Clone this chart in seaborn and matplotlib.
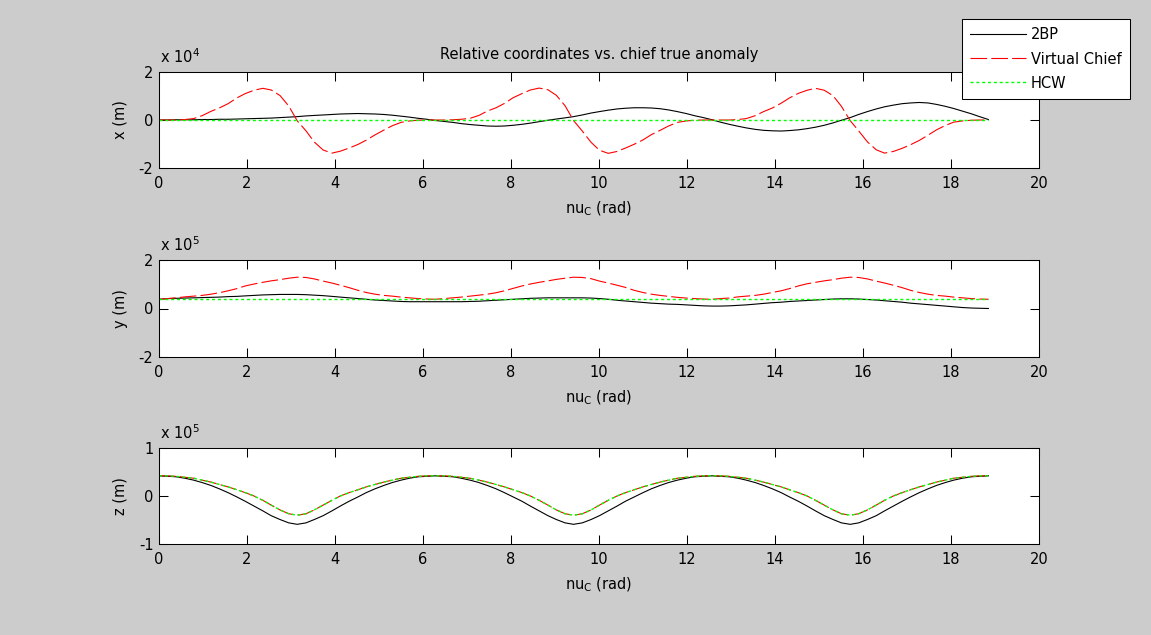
import matplotlib
matplotlib.use("Agg")
import matplotlib.pyplot as plt
import seaborn as sns

# ---------------- data ----------------
# chief true anomaly samples (rad)
nu = [0.00, 0.20, 0.39, 0.59, 0.79, 0.98, 1.18, 1.37, 1.57, 1.77, 1.96, 2.16, 2.36, 2.55, 2.75, 2.95,
      3.14, 3.34, 3.53, 3.73, 3.93, 4.12, 4.32, 4.52, 4.71, 4.91, 5.11, 5.30, 5.50, 5.69, 5.89, 6.09,
      6.28, 6.48, 6.68, 6.87, 7.07, 7.27, 7.46, 7.66, 7.85, 8.05, 8.25, 8.44, 8.64, 8.84, 9.03, 9.23,
      9.42, 9.62, 9.82, 10.01, 10.21, 10.41, 10.60, 10.80, 11.00, 11.19, 11.39, 11.58, 11.78, 11.98, 12.17, 12.37,
      12.57, 12.76, 12.96, 13.16, 13.35, 13.55, 13.74, 13.94, 14.14, 14.33, 14.53, 14.73, 14.92, 15.12, 15.32, 15.51,
      15.71, 15.90, 16.10, 16.30, 16.49, 16.69, 16.89, 17.08, 17.28, 17.48, 17.67, 17.87, 18.06, 18.26, 18.46, 18.65,
      18.85]

# x (units of 1e4 m)
x_2bp = [0.00, 0.00, 0.01, 0.01, 0.01, 0.02, 0.02, 0.03, 0.03, 0.04, 0.05, 0.06, 0.07, 0.08, 0.10, 0.12,
         0.14, 0.17, 0.19, 0.21, 0.23, 0.25, 0.26, 0.27, 0.26, 0.25, 0.23, 0.20, 0.16, 0.12, 0.07, 0.03,
         -0.02, -0.06, -0.10, -0.15, -0.19, -0.22, -0.25, -0.26, -0.25, -0.22, -0.18, -0.13, -0.07, -0.01, 0.04, 0.09,
         0.14, 0.21, 0.29, 0.35, 0.41, 0.46, 0.49, 0.51, 0.51, 0.50, 0.47, 0.42, 0.35, 0.27, 0.18, 0.10,
         0.01, -0.09, -0.18, -0.26, -0.33, -0.39, -0.43, -0.45, -0.46, -0.44, -0.41, -0.36, -0.30, -0.22, -0.12, -0.01,
         0.10, 0.23, 0.35, 0.46, 0.55, 0.62, 0.68, 0.71, 0.73, 0.71, 0.65, 0.57, 0.48, 0.37, 0.26, 0.14,
         0.02]
x_vc = [0.00, 0.00, 0.00, 0.02, 0.06, 0.18, 0.36, 0.50, 0.68, 0.92, 1.10, 1.24, 1.32, 1.25, 1.02, 0.58,
        -0.03, -0.45, -0.92, -1.25, -1.38, -1.30, -1.17, -1.02, -0.84, -0.62, -0.42, -0.24, -0.10, -0.04, -0.01, 0.00,
        0.00, 0.00, 0.01, 0.03, 0.07, 0.19, 0.37, 0.51, 0.69, 0.93, 1.10, 1.25, 1.33, 1.26, 1.03, 0.59,
        -0.02, -0.46, -0.93, -1.26, -1.39, -1.31, -1.17, -1.01, -0.83, -0.61, -0.43, -0.25, -0.10, -0.04, -0.01, 0.00,
        0.00, 0.00, 0.00, 0.02, 0.06, 0.18, 0.35, 0.50, 0.70, 0.92, 1.11, 1.24, 1.32, 1.24, 1.01, 0.57,
        -0.03, -0.45, -0.91, -1.24, -1.38, -1.31, -1.18, -1.03, -0.85, -0.63, -0.41, -0.23, -0.09, -0.04, -0.01, 0.00,
        0.00]
x_hcw = [0.00] * 97

# y (units of 1e5 m)
y_2bp = [0.38, 0.41, 0.42, 0.43, 0.44, 0.45, 0.46, 0.47, 0.49, 0.50, 0.52, 0.54, 0.56, 0.57, 0.58, 0.58,
         0.58, 0.57, 0.55, 0.53, 0.50, 0.47, 0.44, 0.41, 0.38, 0.35, 0.33, 0.31, 0.29, 0.28, 0.28, 0.28,
         0.28, 0.28, 0.28, 0.28, 0.29, 0.30, 0.32, 0.34, 0.36, 0.38, 0.40, 0.42, 0.43, 0.44, 0.44, 0.44,
         0.44, 0.44, 0.43, 0.41, 0.38, 0.34, 0.31, 0.28, 0.25, 0.22, 0.20, 0.18, 0.17, 0.15, 0.13, 0.11,
         0.10, 0.10, 0.11, 0.13, 0.15, 0.18, 0.21, 0.24, 0.26, 0.29, 0.31, 0.33, 0.35, 0.37, 0.39, 0.40,
         0.40, 0.39, 0.37, 0.35, 0.32, 0.29, 0.26, 0.22, 0.19, 0.16, 0.13, 0.10, 0.07, 0.04, 0.02, 0.01,
         0.00]
y_vc = [0.38, 0.41, 0.44, 0.48, 0.51, 0.54, 0.59, 0.65, 0.73, 0.82, 0.93, 1.01, 1.08, 1.14, 1.19, 1.25,
        1.29, 1.28, 1.22, 1.13, 1.05, 0.96, 0.86, 0.75, 0.66, 0.59, 0.54, 0.51, 0.47, 0.44, 0.41, 0.39,
        0.38, 0.41, 0.44, 0.47, 0.51, 0.55, 0.59, 0.65, 0.73, 0.83, 0.93, 1.01, 1.08, 1.14, 1.20, 1.25,
        1.29, 1.28, 1.23, 1.13, 1.05, 0.96, 0.87, 0.75, 0.66, 0.59, 0.54, 0.50, 0.46, 0.43, 0.41, 0.39,
        0.38, 0.41, 0.43, 0.48, 0.51, 0.54, 0.59, 0.66, 0.73, 0.82, 0.93, 1.02, 1.08, 1.14, 1.19, 1.25,
        1.29, 1.28, 1.22, 1.13, 1.05, 0.96, 0.86, 0.75, 0.66, 0.59, 0.54, 0.51, 0.47, 0.44, 0.41, 0.39,
        0.38]
y_hcw = [0.38] * 97

# z (units of 1e5 m)
z_2bp = [0.42, 0.41, 0.40, 0.37, 0.33, 0.28, 0.22, 0.15, 0.07, -0.02, -0.11, -0.21, -0.31, -0.41, -0.49, -0.56,
         -0.59, -0.56, -0.49, -0.41, -0.31, -0.21, -0.11, -0.02, 0.07, 0.15, 0.22, 0.28, 0.33, 0.37, 0.40, 0.41,
         0.42, 0.41, 0.40, 0.37, 0.33, 0.28, 0.22, 0.15, 0.07, -0.02, -0.11, -0.21, -0.31, -0.41, -0.49, -0.56,
         -0.59, -0.56, -0.49, -0.41, -0.31, -0.21, -0.11, -0.02, 0.07, 0.15, 0.22, 0.28, 0.33, 0.37, 0.40, 0.41,
         0.42, 0.41, 0.40, 0.37, 0.33, 0.28, 0.22, 0.15, 0.07, -0.02, -0.11, -0.21, -0.31, -0.41, -0.49, -0.56,
         -0.59, -0.56, -0.49, -0.41, -0.31, -0.21, -0.11, -0.02, 0.07, 0.15, 0.22, 0.28, 0.33, 0.37, 0.40, 0.41,
         0.42]
z_vc = [0.42, 0.42, 0.41, 0.39, 0.37, 0.33, 0.29, 0.24, 0.19, 0.13, 0.07, 0.00, -0.09, -0.19, -0.29, -0.37,
        -0.40, -0.37, -0.29, -0.19, -0.09, 0.00, 0.07, 0.13, 0.19, 0.24, 0.29, 0.33, 0.37, 0.39, 0.41, 0.42,
        0.42, 0.42, 0.41, 0.39, 0.37, 0.33, 0.29, 0.24, 0.19, 0.13, 0.07, 0.00, -0.09, -0.19, -0.29, -0.37,
        -0.40, -0.37, -0.29, -0.19, -0.09, 0.00, 0.07, 0.13, 0.19, 0.24, 0.29, 0.33, 0.37, 0.39, 0.41, 0.42,
        0.42, 0.42, 0.41, 0.39, 0.37, 0.33, 0.29, 0.24, 0.19, 0.13, 0.07, 0.00, -0.09, -0.19, -0.29, -0.37,
        -0.40, -0.37, -0.29, -0.19, -0.09, 0.00, 0.07, 0.13, 0.19, 0.24, 0.29, 0.33, 0.37, 0.39, 0.41, 0.42,
        0.42]
z_hcw = [0.42, 0.42, 0.41, 0.39, 0.37, 0.33, 0.29, 0.24, 0.19, 0.13, 0.07, 0.00, -0.09, -0.19, -0.29, -0.37,
         -0.40, -0.37, -0.29, -0.19, -0.09, 0.00, 0.07, 0.13, 0.19, 0.24, 0.29, 0.33, 0.37, 0.39, 0.41, 0.42,
         0.42, 0.42, 0.41, 0.39, 0.37, 0.33, 0.29, 0.24, 0.19, 0.13, 0.07, 0.00, -0.09, -0.19, -0.29, -0.37,
         -0.40, -0.37, -0.29, -0.19, -0.09, 0.00, 0.07, 0.13, 0.19, 0.24, 0.29, 0.33, 0.37, 0.39, 0.41, 0.42,
         0.42, 0.42, 0.41, 0.39, 0.37, 0.33, 0.29, 0.24, 0.19, 0.13, 0.07, 0.00, -0.09, -0.19, -0.29, -0.37,
         -0.40, -0.37, -0.29, -0.19, -0.09, 0.00, 0.07, 0.13, 0.19, 0.24, 0.29, 0.33, 0.37, 0.39, 0.41, 0.42,
         0.42]

series_labels = ["2BP", "Virtual Chief", "HCW"]
x_ticks = [0, 2, 4, 6, 8, 10, 12, 14, 16, 18, 20]
panel_ylabels = ["x (m)", "y (m)", "z (m)"]
panel_exps = ["4", "5", "5"]
panel_yticks = [[-2, 0, 2], [-2, 0, 2], [-1, 0, 1]]
title_text = "Relative coordinates vs. chief true anomaly"
xlabel_text = r"nu$_{\mathregular{C}}$ (rad)"

# ---------------- style ----------------
plt.rcParams["font.family"] = ["DejaVu Sans"]
plt.rcParams["mathtext.fontset"] = "dejavusans"
plt.rcParams["lines.scale_dashes"] = False
FS = 10.5

W, H = 1151, 635
fig = plt.figure(figsize=(W / 100, H / 100), dpi=100, facecolor="#cccccc")


def make_axes(top, bottom):
    return fig.add_axes([159 / W, 1 - bottom / H, 880 / W, (bottom - top) / H])


axes = [make_axes(72, 168), make_axes(260, 357), make_axes(448, 544)]
data = [(x_2bp, x_vc, x_hcw), (y_2bp, y_vc, y_hcw), (z_2bp, z_vc, z_hcw)]

styles = [
    dict(color="black", linestyle="-", linewidth=0.8),
    dict(color="#ff0000", linestyle=(0, (12, 3)), linewidth=0.8),
    dict(color="#00ff00", linestyle=(0, (2.2, 2.0)), linewidth=1.0),
]

for i, ax in enumerate(axes):
    ax.set_facecolor("white")
    for vals, lab, st in zip(data[i], series_labels, styles):
        sns.lineplot(x=nu, y=vals, ax=ax, label=lab if i == 0 else None,
                     legend=False, sort=False, **st)
    ax.set_xlim(0, 20)
    yt = panel_yticks[i]
    ax.set_ylim(yt[0], yt[-1])
    ax.set_xticks(x_ticks)
    ax.set_yticks(yt)
    ax.set_xticklabels([str(t) for t in x_ticks])
    ax.set_yticklabels([str(t) for t in yt])
    ax.tick_params(direction="in", top=True, right=True, length=6.3, width=0.75,
                   labelsize=FS, colors="black")
    ax.tick_params(axis="x", pad=6)
    ax.tick_params(axis="y", pad=4)
    for sp in ax.spines.values():
        sp.set_visible(True)
        sp.set_color("black")
        sp.set_linewidth(0.75)
    ax.set_xlabel(xlabel_text, fontsize=FS, labelpad=6)
    ax.set_ylabel(panel_ylabels[i], fontsize=FS, labelpad=8)
    ax.annotate(r"x 10$^{%s}$" % panel_exps[i], xy=(0, 1), xycoords="axes fraction",
                xytext=(1, 4), textcoords="offset points", ha="left", va="bottom", fontsize=FS)
    ax.grid(False)

axes[0].set_title(title_text, fontsize=FS, pad=9)

handles, labels = axes[0].get_legend_handles_labels()
leg = axes[0].legend(handles, labels, loc="upper left", bbox_to_anchor=(962 / W, 1 - 19 / H),
                     bbox_transform=fig.transFigure, borderaxespad=0, frameon=True,
                     fancybox=False, framealpha=1, edgecolor="black", facecolor="white",
                     fontsize=FS, handlelength=3.8, handletextpad=0.35, labelspacing=0.62,
                     borderpad=0.58)
leg.get_frame().set_linewidth(0.75)

fig.savefig("out.png", dpi=100, facecolor=fig.get_facecolor())
